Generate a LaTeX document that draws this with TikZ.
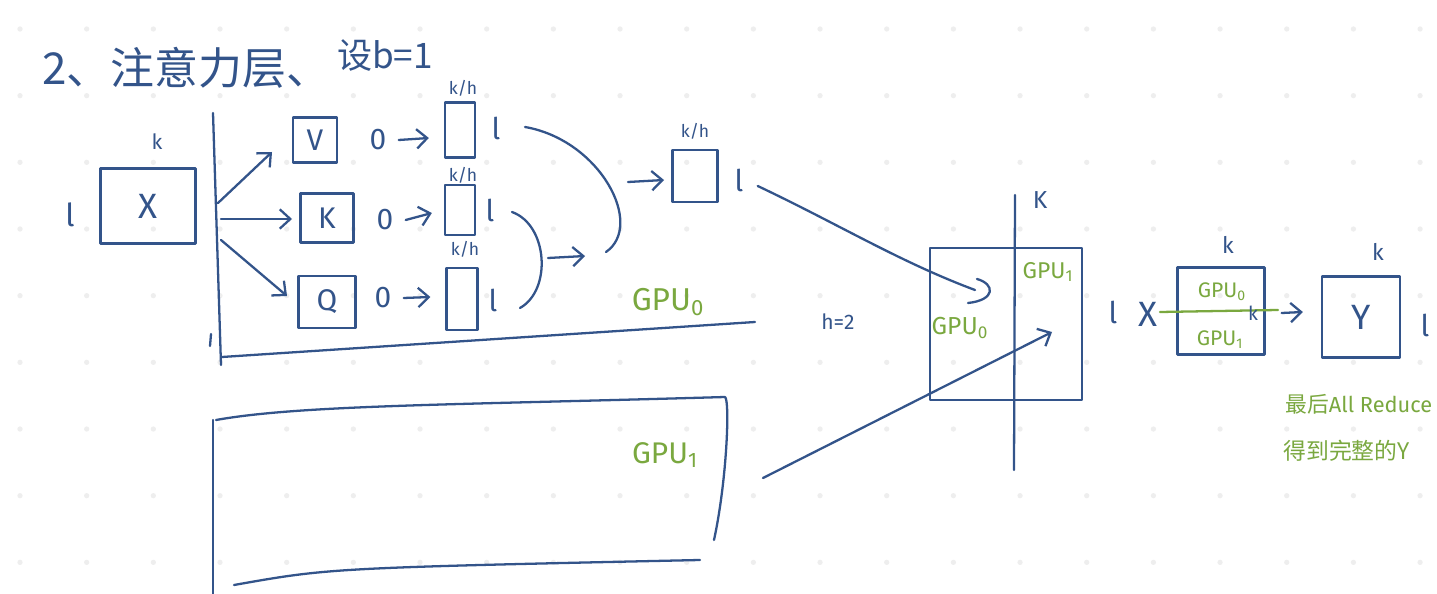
\documentclass[tikz,border=0pt]{standalone}
\usepackage{fontspec}
\setmainfont{Fira Sans}
\newfontfamily\cjk{Noto Sans CJK SC}
\usetikzlibrary{arrows.meta,calc}
\definecolor{ink}{HTML}{33548A}
\definecolor{gink}{HTML}{7AA83F}
\definecolor{dotc}{HTML}{EEEEEE}
\newcommand{\fs}[1]{\fontsize{#1}{#1}\selectfont}
\begin{document}
\begin{tikzpicture}[x=0.02cm,y=-0.02cm, line cap=round, line join=round,
  pen/.style={draw=ink,line width=1.3pt},
  arr/.style={pen,-{Straight Barb[length=6pt,width=11pt,line width=1.3pt]}},
  lbl/.style={text=ink,inner sep=0pt},
  glbl/.style={text=gink,inner sep=0pt},
  boxn/.style={pen,rectangle,inner sep=0pt,text=ink},
]
\useasboundingbox[fill=white] (0,0) rectangle (1437,594);
\foreach \i in {0,...,21} \foreach \j in {0,...,8} \fill[dotc] (20+66.67*\i, 29+66.67*\j) circle[radius=1.5pt];

% title
\node[lbl,font=\cjk\fs{25},anchor=west] (title) at (42,68) {2、注意力层、};
\node[lbl,font=\cjk\fs{20}] (setb) at (385,56) {设b=1};

% X matrix
\node[boxn,minimum width=1.9cm,minimum height=1.5cm,font=\fs{20}] (Xb) at (148,206) {X};
\node[lbl,font=\fs{12}] (kX) at (157,142) {k};
\node[lbl,font=\fs{18}] (lX) at (70,215) {l};

% GPU0 region
\coordinate (g0top) at (213,113);
\coordinate (g0bot) at (221,365);
\coordinate (g0bl) at (222,357);
\coordinate (g0br) at (755,322);
\draw[pen] (g0top) -- (g0bot);
\draw[pen] (g0bl) -- (g0br);
\coordinate (tickA) at (211,334);
\coordinate (tickB) at (210,346);
\draw[pen] (tickA) -- (tickB);

% V K Q
\node[boxn,minimum width=0.88cm,minimum height=0.9cm,font=\fs{17}] (Vb) at (315,140) {V};
\node[boxn,minimum width=1.06cm,minimum height=0.98cm,font=\fs{17}] (Kb) at (327,218) {K};
\node[boxn,minimum width=1.14cm,minimum height=1.04cm,font=\fs{17}] (Qb) at (327,302) {Q};
\coordinate (s1) at (218,203);
\coordinate (s2) at (221,219);
\coordinate (s3) at (221,240);
\coordinate (e1) at (272,152);
\coordinate (e2) at (292,219);
\coordinate (e3) at (287,296);
\draw[arr] (s1) -- (e1);
\draw[arr] (s2) -- (e2);
\draw[arr] (s3) -- (e3);

% 0 -> small boxes
\node[lbl,font=\fs{17}] (z1) at (378,140) {0};
\node[lbl,font=\fs{17}] (z2) at (385,220) {0};
\node[lbl,font=\fs{17}] (z3) at (383,298) {0};
\node[boxn,minimum width=0.6cm,minimum height=1.1cm] (sb1) at (460,130) {};
\node[boxn,minimum width=0.6cm,minimum height=1.0cm] (sb2) at (460,210) {};
\node[boxn,minimum width=0.62cm,minimum height=1.24cm] (sb3) at (462,299) {};
\draw[arr] ($(z1.east)+(12,0)$) -- ($(sb1.west)+(-15,8)$);
\draw[arr] ($(z2.east)+(12,0)$) -- ($(sb2.west)+(-12,3)$);
\draw[arr] ($(z3.east)+(12,0)$) -- ($(sb3.west)+(-15,-2)$);
\node[lbl,font=\fs{10}] (kh1) at (463,88) {k/h};
\node[lbl,font=\fs{10}] (kh2) at (463,175) {k/h};
\node[lbl,font=\fs{10}] (kh3) at (465,249) {k/h};
\node[lbl,font=\fs{17}] (l1) at (496,128) {l};
\node[lbl,font=\fs{17}] (l2) at (490,210) {l};
\node[lbl,font=\fs{17}] (l3) at (493,300) {l};

% curves
\coordinate (c1s) at (525,127);
\coordinate (c1e) at (606,252);
\coordinate (c2s) at (512,212);
\coordinate (c2e) at (520,308);
\coordinate (a2s) at (548,258);
\coordinate (a2e) at (585,256);
\coordinate (a1s) at (628,182);
\coordinate (a1e) at (664,180);
\draw[pen] (c1s) .. controls (600,140) and (645,225) .. (c1e);
\draw[pen] (c2s) .. controls (548,225) and (552,290) .. (c2e);
\draw[arr] (a2s) -- (a2e);
\draw[arr] (a1s) -- (a1e);

% output of attention
\node[boxn,minimum width=0.9cm,minimum height=1.04cm] (ob) at (695,176) {};
\node[lbl,font=\fs{10}] (kh4) at (695,131) {k/h};
\node[lbl,font=\fs{17}] (l4) at (739,180) {l};
\node[glbl,font=\fs{18}] (gpu0a) at (668,302) {GPU\textsubscript{0}};
\node[lbl,font=\fs{12}] (h2) at (838,322) {h=2};

% GPU1 box
\coordinate (g1tl) at (216,420);
\coordinate (g1tr) at (725,397);
\coordinate (g1br) at (714,540);
\coordinate (g1bl) at (234,585);
\coordinate (g1be) at (700,560);
\coordinate (g1lt) at (213,420);
\coordinate (g1lb) at (213,594);
\draw[pen] (g1lt) -- (g1lb);
\draw[pen] (g1tl) .. controls (300,405) and (450,405) .. (g1tr) .. controls (730,400) and (727,480) .. (g1br);
\draw[pen] (g1bl) .. controls (330,568) .. (g1be);
\node[glbl,font=\fs{17}] (gpu1b) at (665,455) {GPU\textsubscript{1}};

% combined matrix
\node[boxn,minimum width=3.04cm,minimum height=3.04cm] (Mb) at (1006,324) {};
\coordinate (dtop) at (1015,195);
\coordinate (dbot) at (1014,470);
\draw[pen] (dtop) -- (dbot);
\node[lbl,font=\fs{14}] (Km) at (1040,200) {K};
\node[glbl,font=\fs{13}] (gpu1m) at (1048,272) {GPU\textsubscript{1}};
\node[glbl,font=\fs{14}] (gpu0m) at (960,328) {GPU\textsubscript{0}};

% connectors to matrix
\coordinate (hookA) at (975,290);
\draw[pen] ($(l4.east)+(14,6)$) .. controls (840,225) and (900,262) .. (hookA);
\draw[pen] (977,279) .. controls (995,284) and (996,300) .. (968,303);
\coordinate (g1from) at (763,478);
\coordinate (g1to) at (1052,332);
\draw[arr] (g1from) -- (g1to);

% right side
\node[lbl,font=\fs{17}] (lR) at (1113,312) {l};
\node[lbl,font=\fs{20}] (XR) at (1148,314) {X};
\node[boxn,minimum width=1.74cm,minimum height=1.74cm] (Rb) at (1221,311) {};
\node[lbl,font=\fs{13}] (kR) at (1228,245) {k};
\coordinate (gl1) at (1160,312);
\coordinate (gl2) at (1278,310);
\draw[draw=gink,line width=1.3pt] (gl1) -- (gl2);
\node[glbl,font=\fs{12}] (g0R) at (1222,292) {GPU\textsubscript{0}};
\node[glbl,font=\fs{12}] (g1R) at (1220,340) {GPU\textsubscript{1}};
\node[lbl,font=\fs{11}] (kR2) at (1253,313) {k};
\node[boxn,minimum width=1.56cm,minimum height=1.62cm,font=\fs{20}] (Yb) at (1361,317) {Y};
\draw[arr] ($(Rb.east)+(16,2)$) -- ($(Yb.west)+(-18,-5)$);
\node[lbl,font=\fs{13}] (kY) at (1378,252) {k};
\node[lbl,font=\fs{17}] (lY) at (1425,325) {l};

% note
\node[glbl,font=\fs{12.4},anchor=west] (note1) at (1285,404) {{\cjk 最后}All Reduce};
\node[glbl,font=\cjk\fs{13},anchor=west] (note2) at (1283,451) {得到完整的Y};
\end{tikzpicture}
\end{document}
